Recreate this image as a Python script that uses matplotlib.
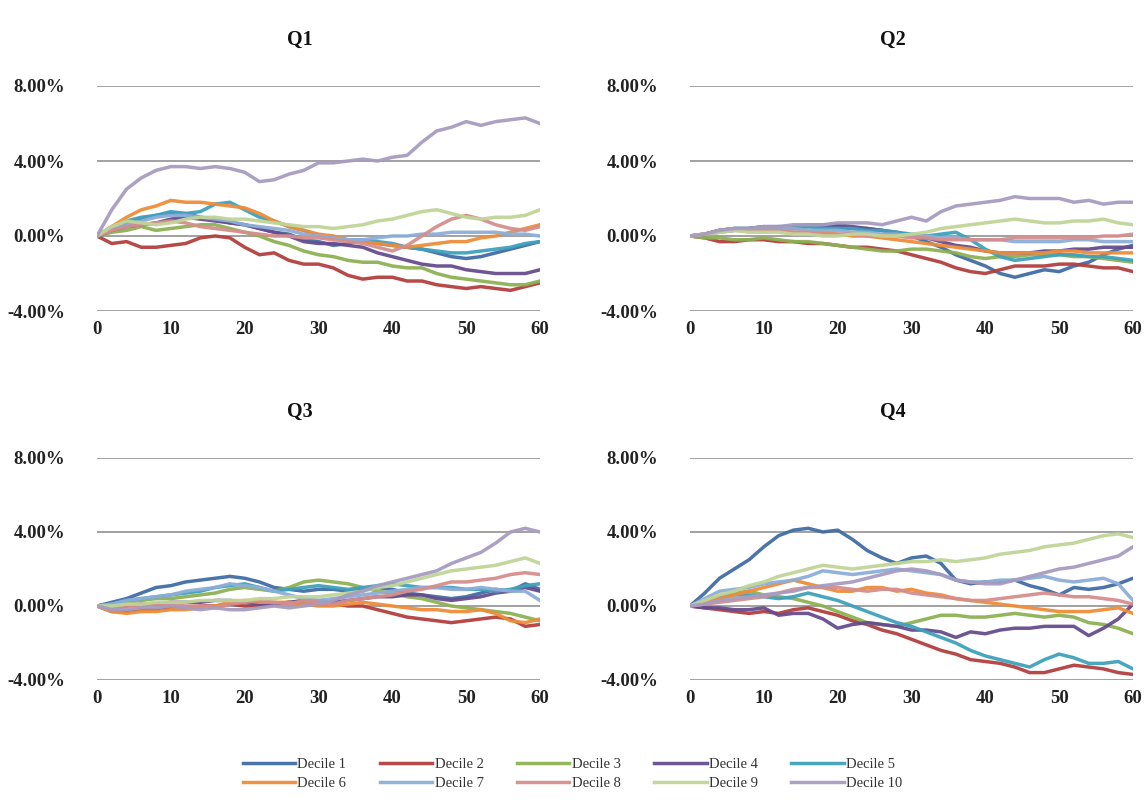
import matplotlib.pyplot as plt
from matplotlib.ticker import FuncFormatter

plt.rcParams['font.family'] = ['Liberation Serif', 'DejaVu Serif']

# Cumulative returns (%) read every second day, 0..60
days = list(range(0, 61, 2))

labels = ['Decile 1', 'Decile 2', 'Decile 3', 'Decile 4', 'Decile 5',
          'Decile 6', 'Decile 7', 'Decile 8', 'Decile 9', 'Decile 10']
colors = ['#416DA6', '#B2403F', '#8DB153', '#664C8E', '#3FA1BC',
          '#EE8D3A', '#8DAED8', '#D68E8C', '#C0D598', '#A79CC0']

q1 = [
    [0, 0.4, 0.7, 0.9, 1.1, 1.2, 1.2, 1.0, 0.9, 0.7, 0.6, 0.4, 0.2, 0.1, -0.2, -0.3, -0.5, -0.4, -0.2, -0.4, -0.5, -0.6, -0.7, -0.9, -1.1, -1.2, -1.1, -0.9, -0.7, -0.5, -0.3],
    [0, -0.4, -0.3, -0.6, -0.6, -0.5, -0.4, -0.1, 0.0, -0.1, -0.6, -1.0, -0.9, -1.3, -1.5, -1.5, -1.7, -2.1, -2.3, -2.2, -2.2, -2.4, -2.4, -2.6, -2.7, -2.8, -2.7, -2.8, -2.9, -2.7, -2.5],
    [0, 0.2, 0.3, 0.5, 0.3, 0.4, 0.5, 0.6, 0.6, 0.4, 0.2, 0.0, -0.3, -0.5, -0.8, -1.0, -1.1, -1.3, -1.4, -1.4, -1.6, -1.7, -1.7, -2.0, -2.2, -2.3, -2.4, -2.5, -2.6, -2.6, -2.4],
    [0, 0.3, 0.5, 0.6, 0.7, 0.9, 1.0, 0.9, 0.8, 0.7, 0.6, 0.4, 0.2, 0.0, -0.3, -0.4, -0.4, -0.5, -0.6, -0.9, -1.1, -1.3, -1.5, -1.6, -1.6, -1.8, -1.9, -2.0, -2.0, -2.0, -1.8],
    [0, 0.5, 0.8, 1.0, 1.1, 1.3, 1.2, 1.3, 1.7, 1.8, 1.4, 1.0, 0.8, 0.5, 0.3, 0.0, -0.1, -0.2, -0.2, -0.3, -0.4, -0.6, -0.7, -0.8, -0.9, -0.9, -0.8, -0.7, -0.6, -0.4, -0.3],
    [0, 0.5, 1.0, 1.4, 1.6, 1.9, 1.8, 1.8, 1.7, 1.6, 1.5, 1.2, 0.8, 0.5, 0.3, 0.1, 0.0, -0.2, -0.3, -0.4, -0.5, -0.6, -0.5, -0.4, -0.3, -0.3, -0.1, 0.0, 0.2, 0.4, 0.6],
    [0, 0.4, 0.6, 0.8, 1.0, 1.1, 1.1, 1.0, 0.9, 0.8, 0.6, 0.5, 0.4, 0.3, 0.1, 0.0, -0.1, -0.2, -0.2, -0.1, 0.0, 0.0, 0.1, 0.1, 0.2, 0.2, 0.2, 0.2, 0.1, 0.1, 0.0],
    [0, 0.3, 0.5, 0.6, 0.7, 0.8, 0.7, 0.5, 0.4, 0.3, 0.2, 0.1, 0.0, 0.0, -0.1, -0.1, -0.2, -0.3, -0.4, -0.6, -0.8, -0.5, 0.0, 0.5, 0.9, 1.1, 0.9, 0.6, 0.4, 0.3, 0.5],
    [0, 0.5, 0.8, 0.7, 0.6, 0.7, 0.9, 1.0, 1.0, 0.9, 0.9, 0.8, 0.7, 0.6, 0.5, 0.5, 0.4, 0.5, 0.6, 0.8, 0.9, 1.1, 1.3, 1.4, 1.2, 1.0, 0.9, 1.0, 1.0, 1.1, 1.4],
    [0, 1.4, 2.5, 3.1, 3.5, 3.7, 3.7, 3.6, 3.7, 3.6, 3.4, 2.9, 3.0, 3.3, 3.5, 3.9, 3.9, 4.0, 4.1, 4.0, 4.2, 4.3, 5.0, 5.6, 5.8, 6.1, 5.9, 6.1, 6.2, 6.3, 6.0],
]

q2 = [
    [0, 0.1, 0.3, 0.3, 0.4, 0.4, 0.5, 0.4, 0.5, 0.5, 0.5, 0.4, 0.4, 0.3, 0.2, 0.0, -0.3, -0.6, -1.0, -1.3, -1.6, -2.0, -2.2, -2.0, -1.8, -1.9, -1.6, -1.4, -1.0, -0.7, -0.5],
    [0, -0.1, -0.3, -0.3, -0.2, -0.2, -0.3, -0.3, -0.4, -0.4, -0.5, -0.6, -0.6, -0.7, -0.8, -1.0, -1.2, -1.4, -1.7, -1.9, -2.0, -1.8, -1.6, -1.6, -1.6, -1.5, -1.5, -1.6, -1.7, -1.7, -1.9],
    [0, -0.1, -0.1, -0.2, -0.2, -0.1, -0.2, -0.3, -0.3, -0.4, -0.5, -0.6, -0.7, -0.8, -0.8, -0.7, -0.7, -0.8, -0.9, -1.1, -1.2, -1.1, -1.1, -1.0, -1.0, -1.0, -1.1, -1.1, -1.2, -1.3, -1.4],
    [0, 0.1, 0.3, 0.4, 0.4, 0.5, 0.5, 0.5, 0.6, 0.6, 0.6, 0.5, 0.4, 0.3, 0.1, 0.0, -0.1, -0.3, -0.5, -0.6, -0.8, -0.9, -0.9, -0.9, -0.8, -0.8, -0.7, -0.7, -0.6, -0.6, -0.6],
    [0, 0.1, 0.3, 0.4, 0.4, 0.5, 0.4, 0.5, 0.5, 0.4, 0.4, 0.4, 0.3, 0.3, 0.2, 0.1, 0.0, 0.1, 0.2, -0.2, -0.7, -1.1, -1.3, -1.2, -1.1, -1.0, -1.0, -1.1, -1.1, -1.2, -1.3],
    [0, 0.1, 0.2, 0.3, 0.3, 0.3, 0.3, 0.2, 0.2, 0.2, 0.1, 0.0, 0.0, -0.1, -0.2, -0.3, -0.4, -0.5, -0.6, -0.7, -0.8, -0.9, -0.9, -0.9, -0.9, -0.8, -0.8, -0.9, -0.9, -0.9, -0.9],
    [0, 0.1, 0.2, 0.3, 0.3, 0.4, 0.4, 0.4, 0.3, 0.3, 0.3, 0.2, 0.2, 0.1, 0.1, 0.0, 0.0, -0.1, -0.1, -0.2, -0.2, -0.2, -0.3, -0.3, -0.3, -0.3, -0.2, -0.2, -0.3, -0.3, -0.3],
    [0, 0.1, 0.3, 0.4, 0.3, 0.3, 0.3, 0.2, 0.2, 0.1, 0.1, 0.1, 0.0, 0.0, 0.0, -0.1, -0.1, -0.2, -0.2, -0.2, -0.2, -0.2, -0.1, -0.1, -0.1, -0.1, -0.1, -0.1, 0.0, 0.0, 0.1],
    [0, 0.1, 0.2, 0.3, 0.2, 0.2, 0.2, 0.1, 0.1, 0.0, 0.0, 0.1, 0.1, 0.0, 0.0, 0.1, 0.2, 0.4, 0.5, 0.6, 0.7, 0.8, 0.9, 0.8, 0.7, 0.7, 0.8, 0.8, 0.9, 0.7, 0.6],
    [0, 0.1, 0.3, 0.4, 0.4, 0.5, 0.5, 0.6, 0.6, 0.6, 0.7, 0.7, 0.7, 0.6, 0.8, 1.0, 0.8, 1.3, 1.6, 1.7, 1.8, 1.9, 2.1, 2.0, 2.0, 2.0, 1.8, 1.9, 1.7, 1.8, 1.8],
]

q3 = [
    [0, 0.2, 0.4, 0.7, 1.0, 1.1, 1.3, 1.4, 1.5, 1.6, 1.5, 1.3, 1.0, 0.9, 0.8, 0.9, 0.9, 0.8, 0.9, 1.0, 0.9, 0.7, 0.6, 0.5, 0.4, 0.5, 0.7, 0.9, 0.8, 1.2, 0.9],
    [0, -0.3, -0.3, -0.2, -0.2, -0.1, -0.1, 0.0, 0.0, 0.1, 0.0, 0.0, 0.1, 0.2, 0.1, 0.1, 0.1, 0.0, 0.0, -0.2, -0.4, -0.6, -0.7, -0.8, -0.9, -0.8, -0.7, -0.6, -0.7, -1.1, -1.0],
    [0, 0.1, 0.2, 0.3, 0.4, 0.4, 0.5, 0.6, 0.7, 0.9, 1.0, 0.9, 0.8, 1.0, 1.3, 1.4, 1.3, 1.2, 1.0, 0.8, 0.7, 0.5, 0.4, 0.2, 0.0, -0.1, -0.2, -0.3, -0.4, -0.6, -0.8],
    [0, -0.1, 0.0, 0.1, 0.1, 0.2, 0.2, 0.2, 0.3, 0.3, 0.2, 0.1, 0.1, 0.2, 0.3, 0.3, 0.2, 0.3, 0.4, 0.5, 0.5, 0.6, 0.6, 0.4, 0.3, 0.4, 0.5, 0.7, 0.8, 1.0, 0.8],
    [0, 0.1, 0.3, 0.4, 0.5, 0.6, 0.7, 0.8, 1.0, 1.1, 1.2, 1.0, 0.8, 0.9, 1.0, 1.1, 1.0, 0.9, 1.0, 1.1, 1.2, 1.1, 1.0, 1.0, 1.0, 0.9, 0.9, 0.8, 0.9, 1.1, 1.2],
    [0, -0.3, -0.4, -0.3, -0.3, -0.2, -0.2, -0.1, 0.0, 0.2, 0.3, 0.2, 0.2, 0.2, 0.1, 0.0, 0.0, 0.1, 0.2, 0.1, 0.0, -0.1, -0.2, -0.2, -0.3, -0.3, -0.2, -0.4, -0.8, -0.9, -0.7],
    [0, 0.1, 0.3, 0.4, 0.5, 0.6, 0.8, 0.9, 1.0, 1.2, 1.1, 1.0, 0.8, 0.6, 0.4, 0.3, 0.4, 0.5, 0.6, 0.7, 0.8, 0.9, 1.0, 1.0, 0.9, 0.9, 1.0, 0.9, 0.8, 0.8, 0.3],
    [0, -0.1, 0.0, 0.0, 0.1, 0.1, 0.0, 0.0, -0.1, 0.1, 0.2, 0.3, 0.2, 0.1, 0.3, 0.2, 0.1, 0.3, 0.4, 0.5, 0.6, 0.8, 0.9, 1.1, 1.3, 1.3, 1.4, 1.5, 1.7, 1.8, 1.7],
    [0, 0.0, 0.1, 0.1, 0.2, 0.2, 0.2, 0.3, 0.3, 0.3, 0.3, 0.4, 0.4, 0.5, 0.5, 0.5, 0.6, 0.7, 0.8, 1.0, 1.1, 1.3, 1.5, 1.7, 1.9, 2.0, 2.1, 2.2, 2.4, 2.6, 2.3],
    [0, -0.2, -0.2, -0.1, -0.1, 0.0, -0.1, -0.2, -0.1, -0.2, -0.2, -0.1, 0.0, -0.1, 0.0, 0.1, 0.3, 0.6, 0.8, 1.1, 1.3, 1.5, 1.7, 1.9, 2.3, 2.6, 2.9, 3.4, 4.0, 4.2, 4.0],
]

q4 = [
    [0, 0.7, 1.5, 2.0, 2.5, 3.2, 3.8, 4.1, 4.2, 4.0, 4.1, 3.6, 3.0, 2.6, 2.3, 2.6, 2.7, 2.3, 1.4, 1.2, 1.3, 1.3, 1.4, 1.1, 0.9, 0.6, 1.0, 0.9, 1.0, 1.2, 1.5],
    [0, -0.1, -0.2, -0.3, -0.4, -0.3, -0.4, -0.2, -0.1, -0.3, -0.5, -0.8, -1.0, -1.3, -1.5, -1.8, -2.1, -2.4, -2.6, -2.9, -3.0, -3.1, -3.3, -3.6, -3.6, -3.4, -3.2, -3.3, -3.4, -3.6, -3.7],
    [0, 0.2, 0.5, 0.7, 0.8, 0.6, 0.5, 0.4, 0.2, 0.0, -0.3, -0.6, -0.9, -1.0, -1.1, -0.9, -0.7, -0.5, -0.5, -0.6, -0.6, -0.5, -0.4, -0.5, -0.6, -0.5, -0.6, -0.9, -1.0, -1.2, -1.5],
    [0, -0.1, -0.1, -0.2, -0.2, -0.1, -0.5, -0.4, -0.4, -0.7, -1.2, -1.0, -0.9, -1.0, -1.1, -1.3, -1.3, -1.4, -1.7, -1.4, -1.5, -1.3, -1.2, -1.2, -1.1, -1.1, -1.1, -1.6, -1.2, -0.7, 0.1],
    [0, 0.3, 0.5, 0.6, 0.6, 0.5, 0.4, 0.5, 0.7, 0.5, 0.3, 0.0, -0.3, -0.6, -0.9, -1.1, -1.4, -1.7, -2.0, -2.4, -2.7, -2.9, -3.1, -3.3, -2.9, -2.6, -2.8, -3.1, -3.1, -3.0, -3.4],
    [0, 0.2, 0.4, 0.6, 0.8, 1.0, 1.2, 1.4, 1.2, 1.0, 0.8, 0.8, 1.0, 1.0, 0.8, 0.9, 0.7, 0.6, 0.4, 0.3, 0.2, 0.1, 0.0, -0.1, -0.2, -0.3, -0.3, -0.3, -0.2, -0.1, -0.4],
    [0, 0.4, 0.8, 0.9, 1.0, 1.2, 1.3, 1.4, 1.6, 1.9, 1.8, 1.7, 1.8, 1.9, 2.0, 1.9, 1.8, 1.7, 1.4, 1.3, 1.3, 1.4, 1.4, 1.5, 1.6, 1.4, 1.3, 1.4, 1.5, 1.2, 0.3],
    [0, 0.1, 0.2, 0.3, 0.4, 0.5, 0.7, 0.9, 1.0, 1.0, 1.0, 0.9, 0.8, 0.9, 0.9, 0.7, 0.6, 0.5, 0.4, 0.3, 0.3, 0.4, 0.5, 0.6, 0.7, 0.6, 0.5, 0.5, 0.4, 0.3, 0.1],
    [0, 0.3, 0.6, 0.8, 1.1, 1.3, 1.6, 1.8, 2.0, 2.2, 2.1, 2.0, 2.1, 2.2, 2.3, 2.4, 2.4, 2.5, 2.4, 2.5, 2.6, 2.8, 2.9, 3.0, 3.2, 3.3, 3.4, 3.6, 3.8, 3.9, 3.7],
    [0, 0.1, 0.3, 0.4, 0.5, 0.6, 0.7, 0.8, 1.0, 1.1, 1.2, 1.3, 1.5, 1.7, 1.9, 2.0, 1.9, 1.7, 1.4, 1.3, 1.2, 1.2, 1.4, 1.6, 1.8, 2.0, 2.1, 2.3, 2.5, 2.7, 3.2],
]

panels = [('Q1', q1), ('Q2', q2), ('Q3', q3), ('Q4', q4)]
y_ticks = [-4, 0, 4, 8]
x_ticks = [0, 10, 20, 30, 40, 50, 60]

W, H = 1145, 807
fig = plt.figure(figsize=(W / 100, H / 100), dpi=100)

# axes boxes in pixels: left, top(8%), right, bottom(-4%)
boxes = [(97, 86, 540, 311), (690, 86, 1133, 311),
         (97, 458, 540, 680), (690, 458, 1133, 680)]

handles = []
for (name, series), (x0, y0, x1, y1) in zip(panels, boxes):
    ax = fig.add_axes([x0 / W, 1 - y1 / H, (x1 - x0) / W, (y1 - y0) / H])
    for ys in y_ticks:
        ax.axhline(ys, color='#9a9a9a', lw=1.3, zorder=0)
    hs = []
    for vals, lab, col in zip(series, labels, colors):
        h, = ax.plot(days, vals, color=col, lw=2.5, label=lab,
                     solid_joinstyle='round', alpha=0.95)
        hs.append(h)
    if not handles:
        handles = hs
    ax.set_xlim(0, 60)
    ax.set_ylim(-4, 8)
    ax.set_yticks(y_ticks)
    ax.set_xticks(x_ticks)
    ax.yaxis.set_major_formatter(FuncFormatter(lambda v, p: f'{v:.2f}%'))
    ax.tick_params(length=0, labelsize=13.5, colors='#222222')
    ax.tick_params(axis='y', pad=23)
    ax.tick_params(axis='x', pad=7)
    for t in ax.get_xticklabels() + ax.get_yticklabels():
        t.set_fontweight('bold')
    for s in ax.spines.values():
        s.set_visible(False)
    ax.set_facecolor('none')
    cx = (x0 + x1) / 2 / W
    fig.text(cx - 0.016, 1 - 40 / H if y0 < 200 else 1 - 412 / H, name,
             ha='center', va='center', fontsize=14.5, fontweight='bold',
             color='#111111')

# legend fills by column, reorder so rows read Decile 1-5 then 6-10
order = [0, 5, 1, 6, 2, 7, 3, 8, 4, 9]
fig.legend([handles[i] for i in order], [labels[i] for i in order],
           loc='center', bbox_to_anchor=(0.5, 1 - 774 / H), ncol=5,
           frameon=False, fontsize=10.5, handlelength=3.6,
           columnspacing=2.3, handletextpad=0.15, labelspacing=0.45,
           labelcolor='#333333')

fig.savefig('out.png', dpi=100)
